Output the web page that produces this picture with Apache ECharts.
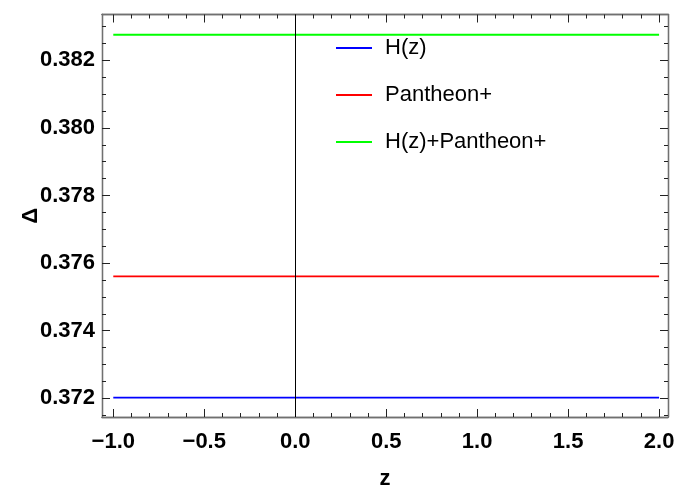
<!DOCTYPE html>
<html>
<head>
<meta charset="utf-8">
<script src="https://cdn.jsdelivr.net/npm/echarts@6/dist/echarts.min.js"></script>
<style>
  html, body { margin: 0; padding: 0; background: #fff; }
  #chart { width: 677px; height: 488px; }
</style>
</head>
<body>
<div id="chart"></div>
<script>
// plot data
const zRange = [-1.0, 2.0]
const hzVals = [0.37202, 0.37202]
const pantheonVals = [0.37561, 0.37561]
const combinedVals = [0.382755, 0.382755]
const seriesNames = ['H(z)', 'Pantheon+', 'H(z)+Pantheon+']
const seriesColors = ['#0000ff', '#ff0000', '#00ff00']

// tick labels
const xTicks = [-1.0, -0.5, 0.0, 0.5, 1.0, 1.5, 2.0]
const yTicks = [0.372, 0.374, 0.376, 0.378, 0.380, 0.382]

// axis ranges (frame is padded a bit past the data)
const xMin = -1.062, xMax = 2.049
const yMin = 0.371448, yMax = 0.383353

// minor ticks: 0.1 steps on z, 0.0005 steps on delta
const xMinor = []
for (let i = -10; i <= 20; i++) if (i % 5 !== 0) xMinor.push(i / 10)
const yMinor = []
for (let i = 743; i <= 766; i++) if (i % 4 !== 0) yMinor.push(i / 2000)

const font = '"Liberation Sans", Arial, sans-serif'
const frameColor = '#707070'

const toPairs = (xs, ys) => xs.map((x, i) => [x, ys[i]])

function tickStyle(len, values) {
  return { show: true, inside: true, length: len, customValues: values, lineStyle: { color: '#222', width: 1 } }
}

function xAxisDef(opts) {
  return Object.assign({
    type: 'value', min: xMin, max: xMax,
    axisLine: { show: true, onZero: false, lineStyle: { color: frameColor, width: 1.3 } },
    axisTick: tickStyle(8, xTicks),
    axisLabel: { show: false },
    splitLine: { show: false }
  }, opts)
}
function yAxisDef(opts) {
  return Object.assign({
    type: 'value', min: yMin, max: yMax,
    axisLine: { show: true, onZero: false, lineStyle: { color: frameColor, width: 1.3 } },
    axisTick: tickStyle(8, yTicks),
    axisLabel: { show: false },
    splitLine: { show: false }
  }, opts)
}

const chart = echarts.init(document.getElementById('chart'), null, { renderer: 'canvas' })

const option = {
  animation: false,
  backgroundColor: '#fff',
  grid: { left: 102, right: 9, top: 14.5, bottom: 71, containLabel: false, outerBoundsMode: 'none' },
  legend: {
    data: seriesNames,
    orient: 'vertical',
    left: 331,
    top: 32,
    itemGap: 25,
    itemWidth: 36,
    itemHeight: 2,
    icon: 'rect',
    textStyle: { fontFamily: font, fontSize: 22, color: '#000', padding: [0, 0, 0, 8] }
  },
  xAxis: [
    xAxisDef({
      position: 'bottom',
      name: 'z', nameLocation: 'middle', nameGap: 51, nameMoveOverlap: false,
      nameTextStyle: { fontFamily: font, fontSize: 22, fontWeight: 'bold', color: '#000' },
      axisLabel: {
        show: true, margin: 14, customValues: xTicks,
        fontFamily: font, fontSize: 22, fontWeight: 'bold', color: '#000',
        formatter: v => v.toFixed(1).replace('-', '\u2212')
      }
    }),
    xAxisDef({ position: 'bottom', axisTick: tickStyle(4, xMinor) }),
    xAxisDef({ position: 'top' }),
    xAxisDef({ position: 'top', axisTick: tickStyle(4, xMinor) })
  ],
  yAxis: [
    yAxisDef({
      position: 'left',
      name: '\u0394', nameLocation: 'middle', nameGap: 60, nameRotate: 90, nameMoveOverlap: false,
      nameTextStyle: { fontFamily: font, fontSize: 22, fontWeight: 'bold', color: '#000' },
      axisLabel: {
        show: true, margin: 7, customValues: yTicks,
        fontFamily: font, fontSize: 22, fontWeight: 'bold', color: '#000',
        formatter: v => v.toFixed(3)
      }
    }),
    yAxisDef({ position: 'left', axisTick: tickStyle(4, yMinor) }),
    yAxisDef({ position: 'right' }),
    yAxisDef({ position: 'right', axisTick: tickStyle(4, yMinor) })
  ],
  series: [
    {
      name: seriesNames[0], type: 'line', data: toPairs(zRange, hzVals),
      showSymbol: false, color: seriesColors[0], lineStyle: { width: 1.7 },
      markLine: {
        silent: true, symbol: 'none', label: { show: false },
        lineStyle: { color: '#000', width: 1, type: 'solid' },
        data: [{ xAxis: 0 }]
      }
    },
    {
      name: seriesNames[1], type: 'line', data: toPairs(zRange, pantheonVals),
      showSymbol: false, color: seriesColors[1], lineStyle: { width: 1.7 }
    },
    {
      name: seriesNames[2], type: 'line', data: toPairs(zRange, combinedVals),
      showSymbol: false, color: seriesColors[2], lineStyle: { width: 1.9 }
    }
  ]
}

chart.setOption(option)
window.addEventListener('resize', chart.resize)
</script>
</body>
</html>
